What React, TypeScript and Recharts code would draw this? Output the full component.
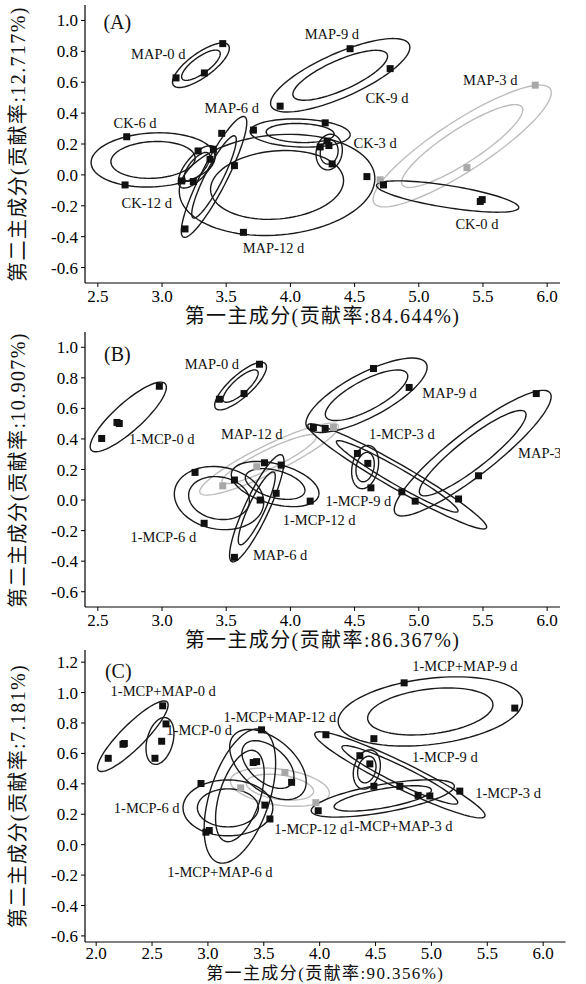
import React from "react";
import { ScatterChart, Scatter, XAxis, YAxis } from "recharts";

const FONT = '"Liberation Serif", "Times New Roman", "Noto Sans CJK SC", serif';

// tick values
const xTicksAB = [2.5, 3.0, 3.5, 4.0, 4.5, 5.0, 5.5, 6.0];
const xTicksC = [2.0, 2.5, 3.0, 3.5, 4.0, 4.5, 5.0, 5.5, 6.0];
const yTicksAB = [-0.6, -0.4, -0.2, 0.0, 0.2, 0.4, 0.6, 0.8, 1.0];
const yTicksC = [-0.6, -0.4, -0.2, 0.0, 0.2, 0.4, 0.6, 0.8, 1.0, 1.2];

// axis titles
const xTitles = ["第一主成分(贡献率:84.644%)", "第一主成分(贡献率:86.367%)", "第一主成分(贡献率:90.356%)"];
const yTitles = ["第二主成分(贡献率:12.717%)", "第二主成分(贡献率:10.907%)", "第二主成分(贡献率:7.181%)"];

// scores per group; ell = [cx, cy, semi-axis a, semi-axis b, angle]
const groupsA = [
  { name: "MAP-0 d", pts: [[3.473, 0.85], [3.33, 0.66], [3.109, 0.628]], ell: [3.303, 0.71, 0.265, 0.094, 36], inner: true },
  { name: "MAP-9 d", pts: [[4.465, 0.817], [4.777, 0.688], [3.92, 0.445]], ell: [4.388, 0.645, 0.589, 0.171, 24], inner: true },
  { name: "CK-9 d", pts: [[3.712, 0.29], [4.271, 0.337], [4.232, 0.181]], ell: [4.076, 0.271, 0.39, 0.109, -2], inner: true },
  { name: "CK-3 d", pts: [[4.286, 0.219], [4.3, 0.19], [4.325, 0.071]], ell: [4.302, 0.148, 0.14, 0.101, 80], inner: true },
  { name: "MAP-3 d", pts: [[5.907, 0.581], [5.375, 0.047], [4.699, -0.032]], ell: [5.338, 0.187, 0.818, 0.195, 33], inner: true },
  { name: "CK-0 d", pts: [[4.725, -0.065], [5.479, -0.172], [5.494, -0.16]], ell: [5.225, -0.14, 0.561, 0.086, -9], inner: false },
  { name: "CK-6 d", pts: [[2.725, 0.247], [2.712, -0.065], [3.281, 0.155]], ell: [2.93, 0.097, 0.483, 0.21, 3], inner: true },
  { name: "MAP-6 d", pts: [[3.465, 0.269], [3.564, 0.06], [3.179, -0.35]], ell: [3.405, -0.013, 0.526, 0.101, 63], inner: true },
  { name: "CK-12 d", pts: [[3.154, -0.039], [3.244, -0.043], [3.374, 0.101]], ell: [3.273, 0.052, 0.203, 0.086, 50], inner: true },
  { name: "MAP-12 d", pts: [[3.634, -0.372], [4.596, -0.011], [3.4, 0.166]], ell: [3.896, -0.065, 0.764, 0.39, 5], inner: true },
];

const groupsB = [
  { name: "MAP-0 d", pts: [[3.759, 0.889], [3.639, 0.697], [3.447, 0.66]], ell: [3.612, 0.746, 0.26, 0.086, 42], inner: true },
  { name: "1-MCP-0 d", pts: [[2.979, 0.745], [2.667, 0.501], [2.649, 0.508], [2.53, 0.403]], ell: [2.737, 0.544, 0.387, 0.109, 42], inner: false },
  { name: "MAP-12 d", pts: [[3.473, 0.093], [4.335, 0.475], [3.738, 0.218]], ell: [3.834, 0.268, 0.599, 0.109, 26], inner: true },
  { name: "MAP-9 d", pts: [[4.647, 0.861], [4.925, 0.737], [4.179, 0.475]], ell: [4.593, 0.686, 0.527, 0.171, 28], inner: true },
  { name: "1-MCP-3 d", pts: [[4.271, 0.469], [4.972, -0.007], [5.31, 0.007]], ell: [4.832, 0.155, 0.803, 0.094, -30], inner: true },
  { name: "MAP-3 d", pts: [[5.915, 0.697], [5.465, 0.159], [4.868, 0.054]], ell: [5.42, 0.307, 0.764, 0.171, 38], inner: true },
  { name: "1-MCP-9 d", pts: [[4.522, 0.305], [4.603, 0.24], [4.627, 0.08]], ell: [4.582, 0.216, 0.171, 0.101, 78], inner: true },
  { name: "1-MCP-6 d", pts: [[3.257, 0.181], [3.564, 0.131], [3.328, -0.152]], ell: [3.444, 0.013, 0.351, 0.242, -10], inner: true },
  { name: "1-MCP-12 d", pts: [[3.798, 0.244], [4.154, -0.007], [3.889, 0.044]], ell: [3.881, 0.105, 0.351, 0.156, -15], inner: true },
  { name: "MAP-6 d", pts: [[3.564, -0.375], [3.928, 0.229], [3.764, 0.0]], ell: [3.738, -0.054, 0.459, 0.094, 65], inner: true },
];

const groupsC = [
  { name: "1-MCP+MAP-0 d", pts: [[2.595, 0.913], [2.252, 0.665], [2.24, 0.66], [2.108, 0.568]], ell: [2.328, 0.713, 0.434, 0.107, 45], inner: false },
  { name: "1-MCP-0 d", pts: [[2.625, 0.794], [2.586, 0.68], [2.526, 0.568]], ell: [2.571, 0.682, 0.215, 0.116, 75], inner: false },
  { name: "1-MCP-12 d", pts: [[3.689, 0.475], [3.293, 0.373], [3.966, 0.276]], ell: [3.644, 0.378, 0.447, 0.161, -8], inner: true },
  { name: "1-MCP+MAP-12 d", pts: [[3.48, 0.755], [3.405, 0.54], [3.749, 0.41]], ell: [3.537, 0.527, 0.402, 0.233, -40], inner: true },
  { name: "1-MCP+MAP-6 d", pts: [[3.555, 0.169], [3.012, 0.093], [3.436, 0.546]], ell: [3.286, 0.32, 0.626, 0.268, 72], inner: true },
  { name: "1-MCP-6 d", pts: [[2.938, 0.402], [3.51, 0.26], [2.982, 0.082]], ell: [3.179, 0.242, 0.402, 0.25, 0], inner: true },
  { name: "1-MCP+MAP-9 d", pts: [[4.756, 1.064], [5.746, 0.898], [4.485, 0.697]], ell: [4.99, 0.876, 0.83, 0.295, 7], inner: true },
  { name: "1-MCP-3 d", pts: [[4.056, 0.723], [5.254, 0.352], [4.986, 0.32]], ell: [4.718, 0.459, 0.846, 0.116, -26], inner: true },
  { name: "1-MCP-9 d", pts: [[4.36, 0.585], [4.449, 0.531], [4.485, 0.384]], ell: [4.422, 0.494, 0.179, 0.116, 75], inner: true },
  { name: "1-MCP+MAP-3 d", pts: [[3.987, 0.223], [4.718, 0.384], [4.881, 0.324]], ell: [4.565, 0.304, 0.65, 0.125, 10], inner: true },
];

const grayGroups = ["A:MAP-3 d", "B:MAP-12 d", "C:1-MCP-12 d"];

// group name labels (anchor in data units)
const labelsA = [
  { x: 2.971, y: 0.785, text: "MAP-0 d" },
  { x: 4.323, y: 0.914, text: "MAP-9 d" },
  { x: 4.752, y: 0.495, text: "CK-9 d" },
  { x: 5.557, y: 0.613, text: "MAP-3 d" },
  { x: 3.543, y: 0.43, text: "MAP-6 d" },
  { x: 2.79, y: 0.334, text: "CK-6 d" },
  { x: 4.66, y: 0.205, text: "CK-3 d" },
  { x: 2.881, y: -0.183, text: "CK-12 d" },
  { x: 3.868, y: -0.473, text: "MAP-12 d" },
  { x: 5.453, y: -0.318, text: "CK-0 d" },
];
const labelsB = [
  { x: 3.388, y: 0.889, text: "MAP-0 d" },
  { x: 2.998, y: 0.399, text: "1-MCP-0 d" },
  { x: 3.699, y: 0.431, text: "MAP-12 d" },
  { x: 5.239, y: 0.704, text: "MAP-9 d" },
  { x: 4.868, y: 0.431, text: "1-MCP-3 d" },
  { x: 5.985, y: 0.305, text: "MAP-3 d" },
  { x: 4.53, y: -0.007, text: "1-MCP-9 d" },
  { x: 4.224, y: -0.131, text: "1-MCP-12 d" },
  { x: 3.01, y: -0.24, text: "1-MCP-6 d" },
  { x: 3.92, y: -0.359, text: "MAP-6 d" },
];
const labelsC = [
  { x: 2.6, y: 1.01, text: "1-MCP+MAP-0 d" },
  { x: 2.922, y: 0.755, text: "1-MCP-0 d" },
  { x: 3.644, y: 0.842, text: "1-MCP+MAP-12 d" },
  { x: 5.299, y: 1.172, text: "1-MCP+MAP-9 d" },
  { x: 5.12, y: 0.579, text: "1-MCP-9 d" },
  { x: 5.686, y: 0.337, text: "1-MCP-3 d" },
  { x: 4.718, y: 0.126, text: "1-MCP+MAP-3 d" },
  { x: 3.921, y: 0.106, text: "1-MCP-12 d" },
  { x: 2.452, y: 0.244, text: "1-MCP-6 d" },
  { x: 3.108, y: -0.177, text: "1-MCP+MAP-6 d" },
];
const tags = [
  { x: 2.652, y: 0.989, text: "(A)" },
  { x: 2.652, y: 0.959, text: "(B)" },
  { x: 2.198, y: 1.14, text: "(C)" },
];

const INNER = 0.68;

const ellipsePoints = (ell: number[], k: number, ratio: number) => {
  const [cx, cy, a, b, deg] = ell;
  const th = (deg * Math.PI) / 180;
  const out: { x: number; y: number }[] = [];
  for (let i = 0; i <= 96; i++) {
    const t = (i / 96) * Math.PI * 2;
    const u = k * a * Math.cos(t);
    const v = k * b * Math.sin(t);
    out.push({
      x: cx + u * Math.cos(th) - v * Math.sin(th),
      y: cy + (u * Math.sin(th) + v * Math.cos(th)) * ratio,
    });
  }
  return out;
};

const noShape = () => <g />;

const titleStyle = {
  position: "absolute" as const,
  whiteSpace: "nowrap" as const,
  fontFamily: FONT,
  letterSpacing: 1.4,
  color: "#111",
};

const Panel = (props: any) => {
  const { id, top, mTop, plotH, xDom, yDom, xTicks, yTicks, groups, labels, tag, xTitle, yTitle, plotRight, titleGap, titleSize, tickMarginX } = props;
  const left = 85;
  const xAxisH = 45;
  const width = 586;
  const height = mTop + plotH + xAxisH;
  const kx = (plotRight - left) / (xDom[1] - xDom[0]);
  const ky = plotH / (yDom[1] - yDom[0]);
  const ratio = kx / ky;
  const isGray = (g: any) => grayGroups.includes(id + ":" + g.name);
  const ordered = [...groups.filter(isGray), ...groups.filter((g: any) => !isGray(g))];
  const tickStyle = { fill: "#000", fontSize: 17, fontFamily: FONT };

  const square = (p: any) => {
    const c = p.payload.gray ? "#a8a8a8" : "#111";
    return <rect x={p.cx - 3.5} y={p.cy - 3.5} width={7} height={7} fill={c} />;
  };
  const textShape = (size: number) => (p: any) => (
    <text x={p.cx} y={p.cy} textAnchor="middle" dominantBaseline="central" fontSize={size} fontFamily={FONT} fill="#111">
      {p.payload.text}
    </text>
  );

  const points = ordered.flatMap((g: any) => g.pts.map((q: number[]) => ({ x: q[0], y: q[1], gray: isGray(g) })));

  return (
    <div style={{ position: "absolute", left: 0, top }}>
      <ScatterChart width={width} height={height} margin={{ top: mTop, right: width - plotRight, left: 0, bottom: 0 }}>
        <XAxis
          type="number"
          dataKey="x"
          domain={xDom}
          ticks={xTicks}
          interval={0}
          allowDataOverflow
          height={xAxisH}
          tickFormatter={(v: number) => v.toFixed(1)}
          tick={tickStyle}
          tickSize={4}
          tickMargin={tickMarginX}
          axisLine={{ stroke: "#000", strokeWidth: 1.2 }}
          tickLine={{ stroke: "#000" }}
        />
        <YAxis
          type="number"
          dataKey="y"
          domain={yDom}
          ticks={yTicks}
          interval={0}
          allowDataOverflow
          width={left}
          tickFormatter={(v: number) => v.toFixed(1)}
          tick={tickStyle}
          tickSize={4}
          tickMargin={3}
          axisLine={{ stroke: "#000", strokeWidth: 1.2 }}
          tickLine={{ stroke: "#000" }}
        />
        {ordered.flatMap((g: any) => {
          const stroke = isGray(g) ? "#bdbdbd" : "#1a1a1a";
          const rings = g.inner ? [1, INNER] : [1];
          return rings.map((k) => (
            <Scatter
              key={g.name + k}
              data={ellipsePoints(g.ell, k, ratio)}
              line={{ stroke, strokeWidth: 1.4 }}
              shape={noShape}
              isAnimationActive={false}
              legendType="none"
            />
          ));
        })}
        <Scatter data={points} shape={square} isAnimationActive={false} legendType="none" />
        <Scatter data={labels} shape={textShape(14.5)} isAnimationActive={false} legendType="none" />
        <Scatter data={[tag]} shape={textShape(20)} isAnimationActive={false} legendType="none" />
      </ScatterChart>
      <div
        style={{
          ...titleStyle,
          fontSize: 20,
          lineHeight: "20px",
          left: 18,
          top: mTop + plotH / 2,
          transform: "translate(-50%, -50%) rotate(-90deg)",
        }}
      >
        {yTitle}
      </div>
      <div
        style={{
          ...titleStyle,
          fontSize: titleSize,
          lineHeight: titleSize + "px",
          left: (left + plotRight) / 2,
          top: mTop + plotH + titleGap,
          transform: "translate(-50%, -50%)",
        }}
      >
        {xTitle}
      </div>
    </div>
  );
};

export default function App() {
  return (
    <div style={{ position: "absolute", left: 0, top: 0, width: 586, height: 984, background: "#fff", overflow: "hidden" }}>
      <Panel id="A" top={0} mTop={5} plotH={278} xDom={[2.4, 6.1]} yDom={[-0.7, 1.1]} plotRight={560}
        titleGap={33} titleSize={20} tickMarginX={3}
        xTicks={xTicksAB} yTicks={yTicksAB} groups={groupsA} labels={labelsA} tag={tags[0]}
        xTitle={xTitles[0]} yTitle={yTitles[0]} />
      <Panel id="B" top={327} mTop={5} plotH={275} xDom={[2.4, 6.1]} yDom={[-0.7, 1.1]} plotRight={560}
        titleGap={33} titleSize={20} tickMarginX={3}
        xTicks={xTicksAB} yTicks={yTicksAB} groups={groupsB} labels={labelsB} tag={tags[1]}
        xTitle={xTitles[1]} yTitle={yTitles[1]} />
      <Panel id="C" top={644} mTop={6} plotH={292} xDom={[1.9, 6.2]} yDom={[-0.64, 1.28]} plotRight={565.5}
        titleGap={31} titleSize={17} tickMarginX={1}
        xTicks={xTicksC} yTicks={yTicksC} groups={groupsC} labels={labelsC} tag={tags[2]}
        xTitle={xTitles[2]} yTitle={yTitles[2]} />
    </div>
  );
}
